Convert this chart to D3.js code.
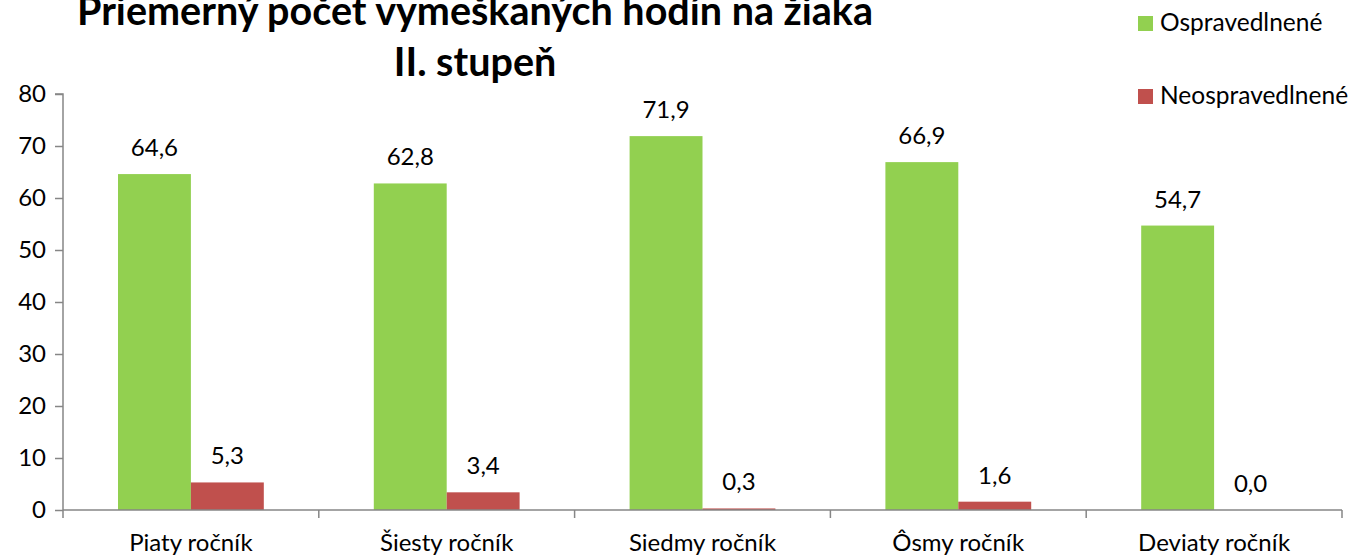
<!DOCTYPE html>
<html>
<head>
<meta charset="utf-8">
<script src="https://cdn.jsdelivr.net/npm/d3@7"></script>
<style>
  body { margin: 0; background: #fff; }
  svg { display: block; font-family: "Lato", "Open Sans", sans-serif; }
</style>
</head>
<body>
<div id="chart"></div>
<script>
const categories = ["Piaty ročník", "Šiesty ročník", "Siedmy ročník", "Ôsmy ročník", "Deviaty ročník"];
const seriesNames = ["Ospravedlnené", "Neospravedlnené"];
const excused = [64.6, 62.8, 71.9, 66.9, 54.7];
const unexcused = [5.3, 3.4, 0.3, 1.6, 0.0];
const yTicks = [0, 10, 20, 30, 40, 50, 60, 70, 80];
const titleLines = ["Priemerný počet vymeškaných hodín na žiaka", "II. stupeň"];

const WIDTH = 1353, HEIGHT = 557;
const MARGIN = { top: 94, right: 11, bottom: 47, left: 63 };
const colors = ["#92D050", "#C0504D"];
const FS = 24;

const rows = categories.map((c, i) => ({ cat: c, values: [excused[i], unexcused[i]] }));

const svg = d3.select("#chart").append("svg")
    .attr("width", WIDTH)
    .attr("height", HEIGHT);

const x = d3.scaleBand()
    .domain(categories)
    .range([MARGIN.left, WIDTH - MARGIN.right])
    .paddingInner(0.43)
    .paddingOuter(0.215);

// full band boundaries (for tick marks)
const xBand = d3.scaleBand()
    .domain(categories)
    .range([MARGIN.left, WIDTH - MARGIN.right]);

const xSub = d3.scaleBand()
    .domain([0, 1])
    .range([0, x.bandwidth()]);

const y = d3.scaleLinear()
    .domain([0, 80])
    .range([HEIGHT - MARGIN.bottom, MARGIN.top]);

// y axis
const yAxis = svg.append("g")
    .attr("transform", `translate(${MARGIN.left},0)`)
    .call(d3.axisLeft(y).tickValues(yTicks).tickSize(8).tickPadding(9));
yAxis.select(".domain").attr("stroke", "#868686").attr("stroke-width", 1.5)
    .attr("d", `M-8,${y(80)}H0V${y(0) + 8}`);
yAxis.selectAll(".tick line").attr("stroke", "#868686").attr("stroke-width", 1.5);
yAxis.selectAll(".tick text").attr("font-size", FS).attr("fill", "#000")
    .attr("font-family", "Lato, sans-serif");

// bars
const groups = svg.append("g").selectAll("g")
    .data(rows)
    .enter()
    .append("g")
    .attr("transform", d => `translate(${x(d.cat)},0)`);

groups.selectAll("rect")
    .data(d => d.values)
    .enter()
    .append("rect")
    .attr("x", (d, i) => xSub(i))
    .attr("width", xSub.bandwidth())
    .attr("y", d => y(d))
    .attr("height", d => y(0) - y(d))
    .attr("fill", (d, i) => colors[i]);

groups.selectAll("text")
    .data(d => d.values)
    .enter()
    .append("text")
    .attr("x", (d, i) => xSub(i) + xSub.bandwidth() / 2)
    .attr("y", d => y(d) - 18)
    .attr("text-anchor", "middle")
    .attr("font-size", FS)
    .text(d => d.toFixed(1).replace(".", ","));

// x axis
const xAxisG = svg.append("g");
xAxisG.append("line")
    .attr("x1", MARGIN.left).attr("x2", WIDTH - MARGIN.right)
    .attr("y1", y(0)).attr("y2", y(0))
    .attr("stroke", "#868686").attr("stroke-width", 1.5);
xAxisG.selectAll(".xtick")
    .data(categories)
    .enter()
    .append("line")
    .attr("x1", d => xBand(d) + xBand.bandwidth())
    .attr("x2", d => xBand(d) + xBand.bandwidth())
    .attr("y1", y(0)).attr("y2", y(0) + 8)
    .attr("stroke", "#868686").attr("stroke-width", 1.5);
xAxisG.selectAll(".xlabel")
    .data(categories)
    .enter()
    .append("text")
    .attr("x", d => xBand(d) + xBand.bandwidth() / 2)
    .attr("y", y(0) + 41)
    .attr("text-anchor", "middle")
    .attr("font-size", FS)
    .text(d => d);

// title
svg.append("g").selectAll("text")
    .data(titleLines)
    .enter()
    .append("text")
    .attr("x", 475)
    .attr("y", (d, i) => 25 + i * 51)
    .attr("text-anchor", "middle")
    .attr("font-size", 39.5)
    .attr("font-weight", "bold")
    .text(d => d);

// legend
const legend = svg.append("g").selectAll("g")
    .data(seriesNames)
    .enter()
    .append("g")
    .attr("transform", (d, i) => `translate(1138, ${16 + i * 73})`);
legend.append("rect")
    .attr("width", 15).attr("height", 15)
    .attr("fill", (d, i) => colors[i]);
legend.append("text")
    .attr("x", 22).attr("y", 15)
    .attr("font-size", 24.5)
    .text(d => d);
</script>
</body>
</html>
